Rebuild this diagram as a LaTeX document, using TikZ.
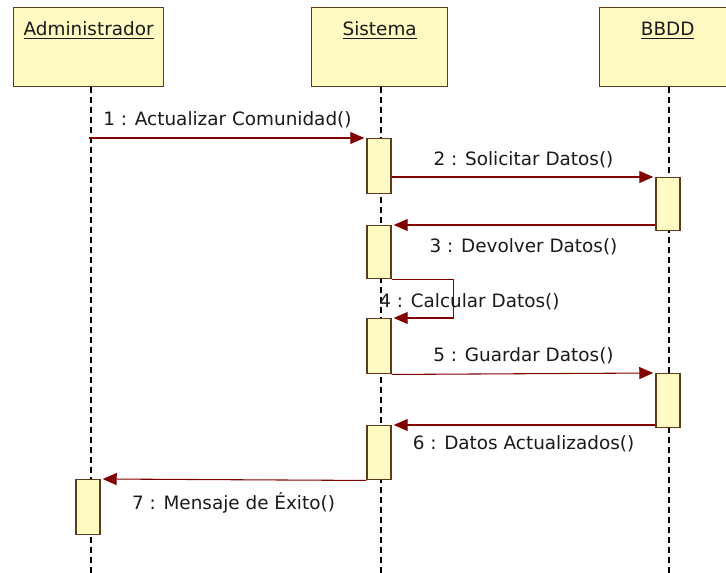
\documentclass[tikz,border=0pt]{standalone}
\usepackage{fontspec}
\setmainfont{DejaVu Sans}
\usetikzlibrary{positioning,calc,arrows.meta}

\definecolor{boxfill}{HTML}{FFF9C2}
\definecolor{boxline}{HTML}{5E3B1C}
\definecolor{msgred}{HTML}{800000}
\definecolor{txt}{HTML}{1A1A1A}

\tikzset{
  headbox/.style={draw=boxline, fill=boxfill, line width=1pt, anchor=north west, inner sep=0pt, minimum height=59.25pt},
  headtitle/.style={anchor=base, inner sep=0pt, text=txt, font=\fontsize{13.8}{16}\selectfont},
  actbox/.style={draw=boxline, fill=boxfill, line width=1.1pt, inner sep=0pt, minimum width=18pt, anchor=north},
  lifeline/.style={line width=1.4pt, dash pattern=on 4.5pt off 3pt},
  msg/.style={draw=msgred, line width=0.8pt, shorten >=1.5pt, -{Triangle[length=10.5pt,width=9pt,fill=msgred]}},
  msglabel/.style={inner sep=0pt, text=txt, font=\fontsize{13.8}{16}\selectfont},
}

\begin{document}
\begin{tikzpicture}[x=0.75pt, y=-0.75pt]
  \clip (0,0) rectangle (726,573);

  % Lifeline heads
  \node[headbox, minimum width=112.5pt] (admin) at (13,7) {};
  \node[headbox, minimum width=102pt] (sis) at (311,7) {};
  \node[headbox, minimum width=102pt] (bbdd) at (599,7) {};
  \node[headtitle] (admintitle) at ([yshift=-21.75pt]admin.north) {\underline{Administrador}};
  \node[headtitle] (sistitle) at ([yshift=-21.75pt]sis.north) {\underline{Sistema}};
  \node[headtitle] (bbddtitle) at ([yshift=-21.75pt]bbdd.north) {\underline{BBDD}};

  % Lifelines
  \draw[lifeline] ([xshift=1.5pt]admin.south) -- ++(0,490);
  \draw[lifeline] ([xshift=1pt]sis.south) -- ++(0,490);
  \draw[lifeline] ([xshift=1pt]bbdd.south) -- ++(0,490);

  % Activations
  \node[actbox, minimum height=41.25pt] (a1) at (379,138) {};
  \node[actbox, minimum height=39.75pt] (b1) at (668,177) {};
  \node[actbox, minimum height=39.75pt] (a2) at (379,225) {};
  \node[actbox, minimum height=41.25pt] (a3) at (379,318) {};
  \node[actbox, minimum height=40.5pt] (b2) at (668,373) {};
  \node[actbox, minimum height=40.5pt] (a4) at (379,425) {};
  \node[actbox, minimum height=41.25pt] (c1) at (88,479) {};

  % Messages
  \draw[msg] (a1.north west -| admin.south) -- (a1.north west)
    node[msglabel, midway, yshift=13.5pt] (l1) {1 : Actualizar Comunidad()};
  \draw[msg] (b1.north west -| a1.east) -- (b1.north west)
    node[msglabel, midway, yshift=12.75pt] (l2) {2 : Solicitar Datos()};
  \draw[msg] (a2.north east -| b1.west) -- (a2.north east)
    node[msglabel, midway, yshift=-16.5pt] (l3) {3 : Devolver Datos()};
  \draw[msg] (a2.south east) -- ++(62,0) |- (a3.north east);
  \node[msglabel, anchor=west] (l4) at ([yshift=-16.5pt]a2.south) {4 : Calcular Datos()};
  \draw[msg] (a3.south east) -- (b2.north west)
    node[msglabel, midway, yshift=13.5pt] (l5) {5 : Guardar Datos()};
  \draw[msg] (a4.north east -| b2.west) -- (a4.north east)
    node[msglabel, midway, yshift=-14.25pt] (l6) {6 : Datos Actualizados()};
  \draw[msg] (a4.south west) -- (c1.north east)
    node[msglabel, midway, yshift=-17.25pt] (l7) {7 : Mensaje de Éxito()};
\end{tikzpicture}
\end{document}
